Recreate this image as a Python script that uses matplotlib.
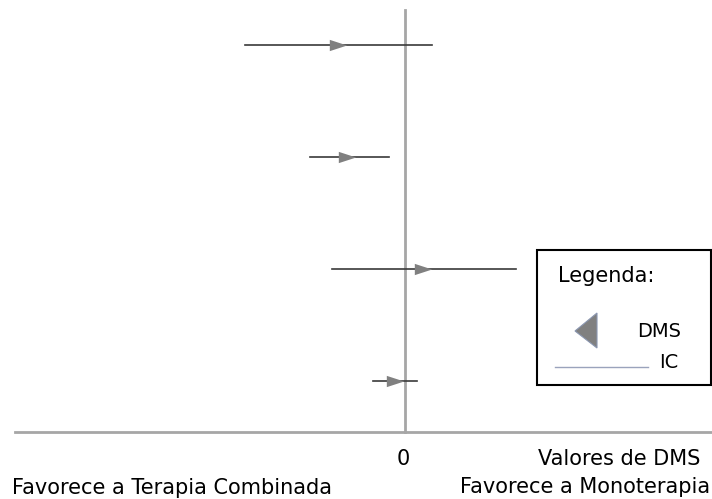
import numpy as np
import matplotlib.pyplot as plt
from matplotlib.patches import Polygon, Rectangle

# forest plot data (DMS and confidence intervals), top to bottom
rows = [4, 3, 2, 1]
dms = [-1.34, -1.16, 0.36, -0.20]
ic_low = [-3.20, -1.90, -1.46, -0.64]
ic_high = [0.54, -0.32, 2.22, 0.24]

W, H = 712, 499
fig = plt.figure(figsize=(W / 100, H / 100), dpi=100)
ax = fig.add_axes([0, 0, 1, 1])
ax.set_xlim(-8.1, 6.14)
ax.set_ylim(-0.0536, 4.402)
ax.axis('off')


def px(x, y):
    # pixel position -> figure fraction
    return x / W, 1 - y / H


# axes lines
ax.plot([0, 0], [0.545, 4.3125], color='#a6a6a6', lw=2, zorder=1)
ax.plot([-7.8, 6.14], [0.545, 0.545], color='#a6a6a6', lw=2, zorder=1)

# confidence intervals
for r, lo, hi in zip(rows, ic_low, ic_high):
    ax.plot([lo, hi], [r, r], color='#3a3a3a', lw=1.2, zorder=2)

# point estimates (flat arrow-like triangles)
tri = [(-1, -0.65), (1, 0), (-1, 0.65), (-1, -0.65)]
ax.plot(dms, rows, linestyle='none', marker=tri, markersize=12.5,
        color='#808080', markeredgewidth=0, zorder=3)

fs = 15
fig.text(*px(403, 465), '0', ha='center', va='baseline', fontsize=fs)
fig.text(*px(700, 465), 'Valores de DMS', ha='right', va='baseline', fontsize=fs)
fig.text(*px(12, 494), 'Favorece a Terapia Combinada', ha='left', va='baseline', fontsize=fs)
fig.text(*px(710, 493), 'Favorece a Monoterapia', ha='right', va='baseline', fontsize=fs)

# legend box
x0, y0 = px(537, 385)
x1, y1 = px(711, 250)
fig.add_artist(Rectangle((x0, y0), x1 - x0, y1 - y0, transform=fig.transFigure,
                         fill=False, edgecolor='black', lw=1.5))
fig.text(*px(558, 282), 'Legenda:', ha='left', va='baseline', fontsize=fs)
fig.add_artist(Polygon([px(575, 331), px(597, 313), px(597, 348)],
                       transform=fig.transFigure, facecolor='#808080',
                       edgecolor='#8a96b0', lw=0.8))
fig.text(*px(637, 337), 'DMS', ha='left', va='baseline', fontsize=14)
fig.add_artist(plt.Line2D([555 / W, 648 / W], [1 - 367 / H, 1 - 367 / H],
                          transform=fig.transFigure, color='#9aa3bc', lw=1))
fig.text(*px(659, 368), 'IC', ha='left', va='baseline', fontsize=14)

fig.savefig('out.png', dpi=100)
